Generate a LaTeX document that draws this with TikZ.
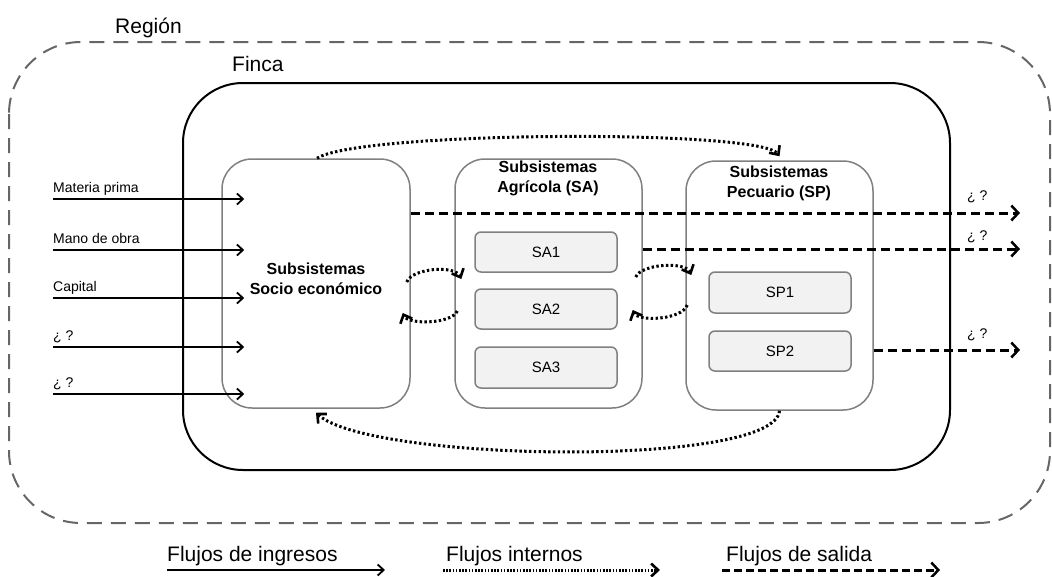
\documentclass[tikz,border=0pt]{standalone}
\usepackage{fontspec}
\setmainfont{Liberation Sans}
\usetikzlibrary{arrows.meta}
\definecolor{boxgray}{HTML}{808080}
\definecolor{regiongray}{HTML}{666666}
\definecolor{innerfill}{HTML}{F2F2F2}
\tikzset{
  big/.style={font=\fontsize{21}{25}\selectfont, inner sep=0pt},
  small/.style={font=\fontsize{14}{16}\selectfont, inner sep=0pt},
  subbox/.style={draw=boxgray, line width=1.5pt, rounded corners=30pt, fill=white},
  innerbox/.style={draw=boxgray, line width=1.5pt, rounded corners=6pt, fill=innerfill,
                   minimum width=142pt, font=\fontsize{15}{18}\selectfont},
  titletext/.style={font=\bfseries\fontsize{16}{20}\selectfont, align=center, inner sep=0pt},
  inflow/.style={line width=1.8pt, -{Straight Barb[length=6pt,width=11pt,line width=1.8pt]}},
  outflow/.style={line width=3pt, dash pattern=on 9pt off 5pt,
                  -{Straight Barb[length=7pt,width=15pt,line width=2.5pt]}},
  intflow/.style={line width=3pt, dash pattern=on 2.4pt off 2.4pt,
                  -{Straight Barb[length=7pt,width=13pt,line width=2.6pt]}},
}
\begin{document}
\begin{tikzpicture}[x=1pt,y=-1pt]
\useasboundingbox (0,0) rectangle (1052,576);

% Region and farm
\draw[regiongray, line width=2pt, dash pattern=on 15pt off 9pt, rounded corners=72pt]
  (9,42) rectangle (1050,523);
\node[big, anchor=base west] (region) at (115,33) {Región};
\draw[black, line width=2pt, rounded corners=60pt] (183,83) rectangle (950,470);
\node[big, anchor=base west] (finca) at (232,71) {Finca};

% Subsystems
\node[subbox, minimum width=188pt, minimum height=249pt] (socio) at (316,283.5) {};
\node[titletext] (sociotxt) at (316,279) {Subsistemas\\Socio económico};
\node[subbox, minimum width=187pt, minimum height=249pt] (sa) at (548.5,283.5) {};
\node[titletext] (satxt) at (548,178) {Subsistemas\\Agrícola (SA)};
\node[subbox, minimum width=187pt, minimum height=249pt] (sp) at (779.5,285.5) {};
\node[titletext] (sptxt) at (779,183) {Subsistemas\\Pecuario (SP)};

\node[innerbox, minimum height=40pt] (sa1) at (546,252) {SA1};
\node[innerbox, minimum height=40pt] (sa2) at (546,309) {SA2};
\node[innerbox, minimum height=41pt] (sa3) at (546,367.5) {SA3};
\node[innerbox, minimum height=41pt] (sp1) at (780,292.5) {SP1};
\node[innerbox, minimum height=40pt] (sp2) at (780,351) {SP2};

% Input flows
\foreach \y/\lab/\n in {199/Materia prima/1, 250/Mano de obra/2, 298/Capital/3, 347/¿ ?/4, 394/¿ ?/5}{
  \coordinate (in\n) at (53,\y);
  \node[small, anchor=base west] (inl\n) at (53,\y-7) {\lab};
  \draw[inflow] (in\n) -- ([xshift=23pt]in\n -| socio.west);
}

% Output flows
\coordinate (o1) at (1020,213);
\coordinate (o2) at (1020,249);
\coordinate (o3) at (1020,350);
\draw[outflow] (socio.east |- o1) -- (o1);
\draw[outflow] (sa.east |- o2) -- (o2);
\draw[outflow] (sp.east |- o3) -- (o3);
\node[small, anchor=base west] (ol1) at (967,200) {¿ ?};
\node[small, anchor=base west] (ol2) at (967,240) {¿ ?};
\node[small, anchor=base west] (ol3) at (967,338) {¿ ?};

% Internal flows
\draw[intflow] ([shift={(1,0)}]socio.north) .. controls (360,131) and (760,129) .. ([shift={(0,-4)}]sp.north);
\draw[intflow] (sp.south) .. controls (775,468) and (370,462) .. ([shift={(0,4)}]socio.south);

\coordinate (l1a) at ([shift={(-4,-1.5)}]socio.east);
\coordinate (l1b) at ([shift={(7,-4.5)}]sa.west);
\draw[intflow] (l1a) .. controls (412,268) and (455,265) .. (l1b);
\coordinate (l2a) at ([shift={(3,27.5)}]sa.west);
\coordinate (l2b) at ([shift={(-8,29.5)}]socio.east);
\draw[intflow] (l2a) .. controls (452,324) and (408,325) .. (l2b);

\coordinate (r1a) at ([shift={(-7,-6.5)}]sa.east);
\coordinate (r1b) at ([shift={(6,-10.5)}]sp.west);
\draw[intflow] (r1a) .. controls (641,264) and (685,261) .. (r1b);
\coordinate (r2a) at ([shift={(2,19.5)}]sp.west);
\coordinate (r2b) at ([shift={(-10,26.5)}]sa.east);
\draw[intflow] (r2a) .. controls (682,320) and (638,322) .. (r2b);

% Legend
\node[big, anchor=base west] (lg1) at (167,561) {Flujos de ingresos};
\node[big, anchor=base west] (lg2) at (446,561) {Flujos internos};
\node[big, anchor=base west] (lg3) at (726,561) {Flujos de salida};
\coordinate (lg1a) at (167,570); \coordinate (lg1b) at (385,570);
\coordinate (lg2a) at (443,570); \coordinate (lg2b) at (660,570);
\coordinate (lg3a) at (722,570); \coordinate (lg3b) at (940,570);
\draw[inflow, line width=2.8pt] (lg1a) -- (lg1b);
\draw[intflow, line width=3pt, dash pattern=on 1.6pt off 1.6pt] (lg2a) -- (lg2b);
\draw[outflow, dash pattern=on 8pt off 4pt] (lg3a) -- (lg3b);
\end{tikzpicture}
\end{document}
